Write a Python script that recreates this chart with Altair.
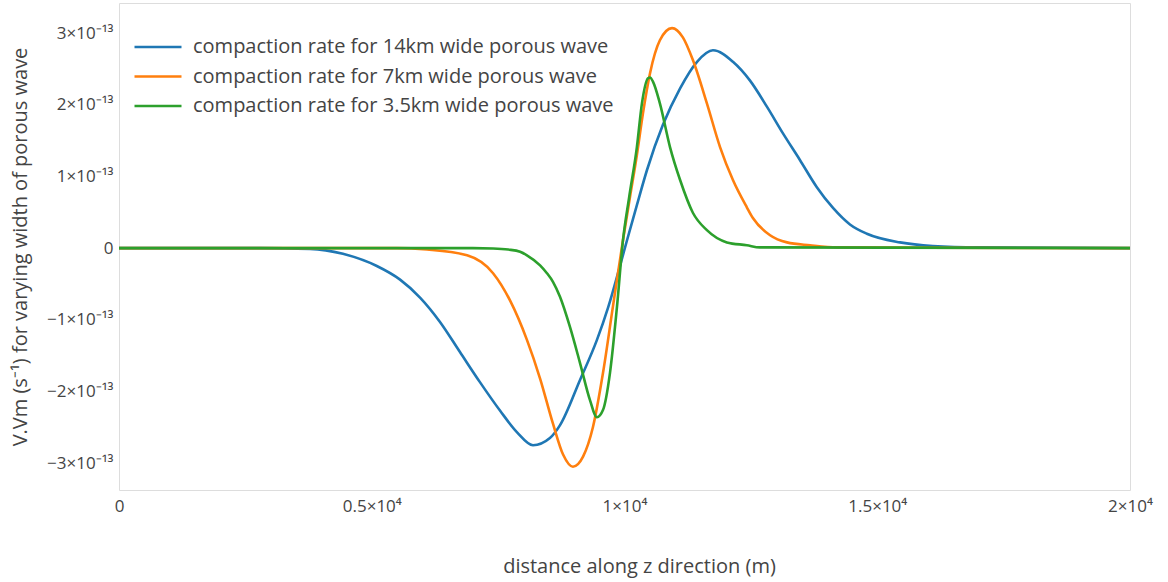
import altair as alt
import pandas as pd

series_names = [
    "compaction rate for 14km wide porous wave",
    "compaction rate for 7km wide porous wave",
    "compaction rate for 3.5km wide porous wave",
]
series_colors = ["#1f77b4", "#ff7f0e", "#2ca02c"]

# distance along z (m); rate in units of 1e-13 s^-1
z_14km = [0, 2790, 3780, 4430, 5100, 5560, 5955, 6350, 6745, 7140, 7540, 7875,
          8190, 8525, 8725, 9120, 9455, 9675, 9910, 10050, 10245, 10445, 10760,
          11100, 11435, 11750, 12145, 12480, 12820, 13135, 13470, 13805,
          14125, 14460, 14795, 15450, 16100, 17030, 20000]
r_14km = [0, 0, -0.01, -0.08, -0.25, -0.44, -0.69, -1.03, -1.45, -1.87, -2.27, -2.57,
          -2.75, -2.65, -2.47, -1.84, -1.28, -0.83, -0.25, 0.11, 0.60, 1.09, 1.72,
          2.23, 2.60, 2.76, 2.60, 2.34, 1.97, 1.60, 1.23, 0.85,
          0.56, 0.33, 0.20, 0.08, 0.03, 0.01, 0]

z_7km = [0, 5500, 6095, 6885, 7400, 7735, 8070, 8330, 8585, 8785, 8980,
         9180, 9375, 9575, 9770, 9970, 10110, 10245, 10365, 10505, 10700,
         10940, 11155, 11355, 11630, 11890, 12145, 12420, 12540, 12880, 13215,
         13670, 14205, 20000]
r_7km = [0, 0, -0.02, -0.10, -0.35, -0.73, -1.28, -1.82, -2.45, -2.88, -3.05,
         -2.91, -2.50, -1.74, -0.82, 0.11, 0.72, 1.30, 1.88, 2.44, 2.90,
         3.07, 2.94, 2.62, 2.02, 1.41, 0.95, 0.57, 0.42, 0.18, 0.08,
         0.04, 0.01, 0]

z_3_5km = [0, 7000, 7400, 7700, 7935, 8070, 8330, 8466, 8585, 8724, 8921, 9119, 9317,
           9455, 9574, 9713, 9851, 9970, 10090, 10245, 10345, 10465, 10505,
           10565, 10700, 10900, 11100, 11355, 11630, 12025, 12420, 12680, 20000]
r_3_5km = [0, 0, -0.005, -0.02, -0.05, -0.10, -0.24, -0.35, -0.47, -0.68, -1.10, -1.60, -2.12,
           -2.36, -2.26, -1.74, -0.82, 0.11, 0.70, 1.41, 2.02, 2.37, 2.38,
           2.32, 2.02, 1.41, 0.95, 0.49, 0.25, 0.08, 0.04, 0.01, 0]

rows = []
for name, zs, rs in zip(series_names, [z_14km, z_7km, z_3_5km], [r_14km, r_7km, r_3_5km]):
    for z, r in zip(zs, rs):
        rows.append({"z": z, "rate": r * 1e-13, "series": name})
df = pd.DataFrame(rows)

x_ticks = [0, 5000, 10000, 15000, 20000]
y_ticks = [-3e-13, -2e-13, -1e-13, 0, 1e-13, 2e-13, 3e-13]

font = "Open Sans"
text_color = "#444444"

chart = alt.Chart(df).mark_line(strokeWidth=2.6, interpolate="monotone").encode(
    x=alt.X(
        "z:Q",
        scale=alt.Scale(domain=[0, 20000], nice=False, zero=False),
        axis=alt.Axis(
            values=x_ticks,
            labelExpr="datum.value == 0 ? '0' : (datum.value / 10000) + '×10⁴'",
            title="distance along z direction (m)",
            grid=False, ticks=False, domain=False,
            labelFont=font, labelFontSize=17, labelColor=text_color,
            labelPadding=8, labelFlush=False,
            titleFont=font, titleFontSize=20, titleFontWeight="normal",
            titleColor=text_color, titlePadding=42, titleX=520,
        ),
    ),
    y=alt.Y(
        "rate:Q",
        scale=alt.Scale(domain=[-3.375e-13, 3.42e-13], nice=False, zero=False),
        axis=alt.Axis(
            values=y_ticks,
            labelExpr="datum.value == 0 ? '0' : (datum.value < 0 ? '−' : '') + abs(round(datum.value * 1e13)) + '×10⁻¹³'",
            title="V.Vm  (s⁻¹) for varying width of porous wave",
            grid=False, ticks=False, domain=False,
            labelFont=font, labelFontSize=17, labelColor=text_color,
            labelPadding=6, labelFlush=False,
            titleFont=font, titleFontSize=20, titleFontWeight="normal",
            titleColor=text_color, titlePadding=16,
        ),
    ),
    color=alt.Color(
        "series:N",
        scale=alt.Scale(domain=series_names, range=series_colors),
        legend=alt.Legend(
            title=None, orient="none", legendX=29, legendY=34,
            symbolType="M-4,0H4", symbolSize=138, symbolStrokeWidth=2.6,
            labelFont=font, labelFontSize=20, labelColor=text_color,
            labelOffset=25, labelLimit=0, rowPadding=9.5, padding=0,
        ),
    ),
).properties(
    width=1011,
    height=487,
    padding={"left": 119, "top": 3, "right": 38, "bottom": 92},
    autosize=alt.AutoSizeParams(type="none"),
).configure_view(
    stroke="#7f7f7f", strokeWidth=1.6
).configure(background="white")

chart.save("out.html", embed_options={"renderer": "svg", "actions": False})
